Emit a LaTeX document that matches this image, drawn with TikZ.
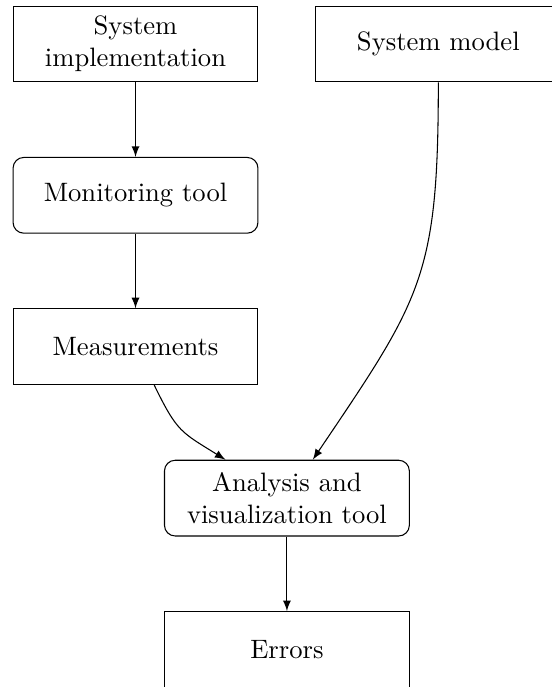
\documentclass[tikz,border=0pt]{standalone}
\usetikzlibrary{arrows}
\begin{document}
\begin{tikzpicture}[
  box/.style={draw, text width=3cm, align=center, minimum height=1cm, inner sep=0.3333em},
  roundbox/.style={box, rounded corners=4pt},
  conn/.style={-latex, thin}
]
\useasboundingbox (-1.79,0.58) rectangle (5.49,-8.495);
\node[box] (impl) at (0,0) {System\\implementation};
\node[box] (model) at (4,0) {System model};
\node[roundbox] (mon) at (0,-2) {Monitoring tool};
\node[box] (meas) at (0,-4) {Measurements};
\node[roundbox] (ana) at (2,-6) {Analysis and\\visualization tool};
\node[box] (err) at (2,-8) {Errors};
\draw[conn] (impl) -- (mon);
\draw[conn] (mon) -- (meas);
\draw[conn] (meas) to[out=-64, in=148, looseness=1.3] (ana);
\draw[conn] (model) to[out=-90, in=56, looseness=1.25] (ana);
\draw[conn] (ana) -- (err);
\end{tikzpicture}
\end{document}
